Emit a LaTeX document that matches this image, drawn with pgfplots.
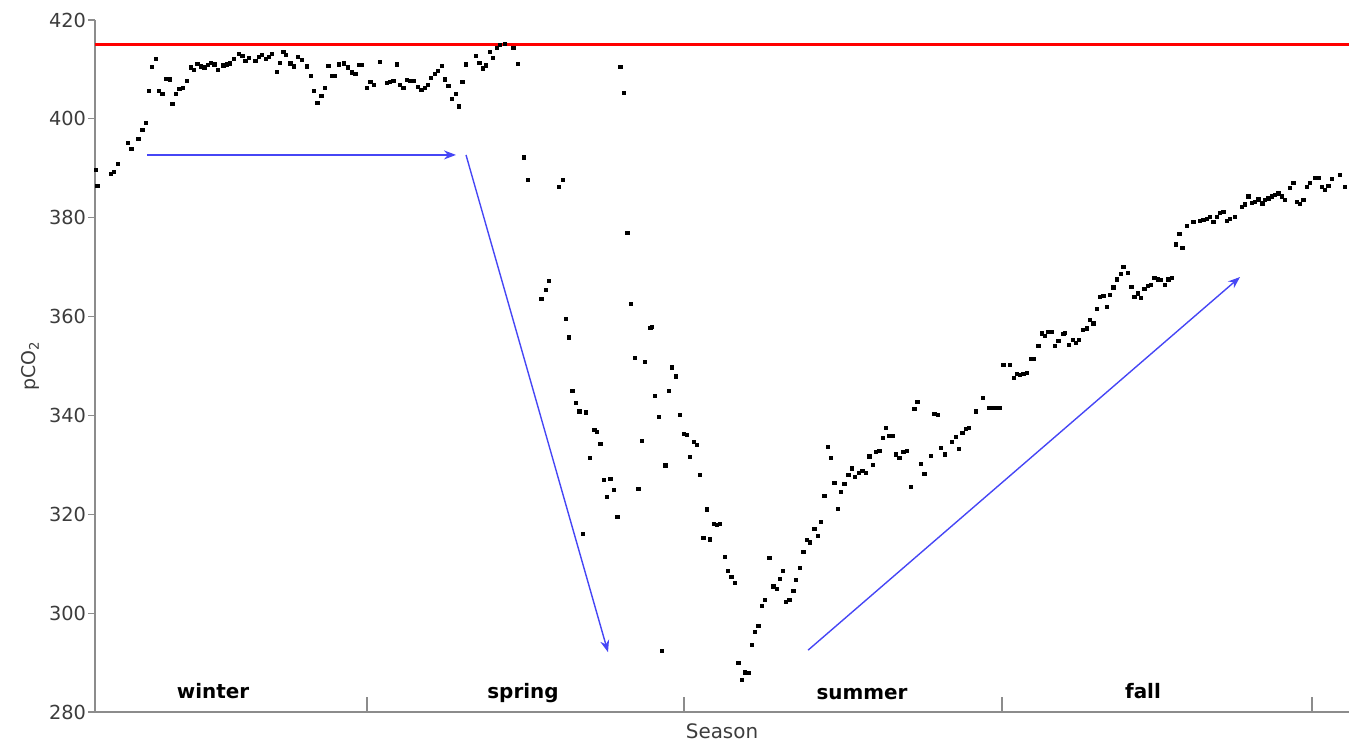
\documentclass[border=0pt]{standalone}
\usepackage{pgfplots}
\pgfplotsset{compat=1.18}
\usepackage{pgfplotstable}
\usetikzlibrary{arrows.meta}
\usepackage{fontspec}
\setmainfont{DejaVu Sans}
\definecolor{axgray}{RGB}{140,140,140}
\definecolor{txtgray}{RGB}{60,60,60}
\definecolor{arrblue}{RGB}{70,70,245}

\pgfplotstableread{
x y
95.5 389.7
97.3 386.5
110.7 388.8
114 389.2
117.7 390.9
127.7 395.2
131.3 394.0
138.3 395.9
142.3 397.7
145.7 399.2
149 405.6
152 410.5
155.7 412.1
159 405.6
162.3 405.0
166.3 408.1
169.7 408.0
172.3 403.1
176 405.0
179.3 406.0
182.7 406.3
187 407.7
190.7 410.4
194 409.9
197.3 411.1
200.7 410.6
204.3 410.4
207.7 410.9
210.7 411.4
214.3 411.0
217.7 409.9
223.3 410.8
226.7 411.0
230 411.2
234 412.1
239 413.1
242.3 412.7
245.3 411.8
248.7 412.4
255.3 411.7
258.7 412.6
262 413.0
265.7 412.2
268.7 412.6
272 413.1
276.7 409.5
280 411.3
283.3 413.5
286 412.9
290.3 411.2
294 410.6
298 412.6
302 412.0
307 410.6
310.7 408.7
314 405.6
317.3 403.3
321.3 404.6
325 406.2
328.3 410.7
331.7 408.7
335 408.7
338.7 411.0
344 411.2
347.7 410.4
352 409.4
355.3 409.1
358.7 410.9
362 410.9
366.7 406.3
370.3 407.4
373.7 406.9
379.7 411.6
386.7 407.3
390 407.5
393.3 407.7
396.7 411.0
400 406.8
403.3 406.2
407 407.8
410.3 407.7
413.7 407.7
418 406.4
421.3 405.9
424.7 406.3
428 406.9
431 408.3
434.7 409.1
438 409.7
441.7 410.7
444.7 408.0
448.3 406.6
451.7 404.0
455.7 405.0
459 402.5
462.3 407.4
466 411.0
475.7 412.8
479.3 411.4
482.7 410.2
486 410.8
489.7 413.5
493 412.3
496.5 414.4
500 414.9
505 415.1
513.3 414.4
517.7 411.1
524 392.2
527.5 387.7
541.3 363.5
545.5 365.4
549 367.2
559 386.2
562.7 387.6
565.7 359.6
569 355.8
572.3 345.0
575.7 342.5
579.3 340.8
586 340.6
582.7 316.0
590 331.4
594.3 337.0
596.7 336.6
600.3 334.3
604 326.9
607 323.5
610.3 327.2
614 324.9
617.3 319.5
620.3 410.5
624 405.2
627.3 377.0
630.7 362.5
634.7 351.6
638.3 325.1
641.7 334.9
645 350.8
650.3 357.7
652 357.9
655 343.9
659 339.7
661.7 292.4
665.3 329.9
669 345.0
672 349.7
675.7 347.9
679.7 340.1
684 336.2
686.7 336.0
689.7 331.6
693.7 334.6
697 334.0
700 327.9
703.3 315.3
707 321.0
710 314.9
714 318.0
717 317.8
720 318.0
724.5 311.4
728 308.5
731.3 307.4
735 306.1
738.3 289.9
741.7 286.5
745 288.0
748.3 287.9
751.7 293.5
755 296.2
758.3 297.5
761.7 301.4
765 302.7
769.3 311.1
773.3 305.4
776.7 304.9
779.5 306.9
782.5 308.5
786 302.3
789.3 302.7
793.3 304.5
796 306.7
799.7 309.1
803.3 312.4
806.7 314.8
810 314.3
814.3 317.0
817.7 315.7
820.7 318.5
824.3 323.8
827.7 333.6
831 331.4
834.3 326.4
837.7 321.1
841 324.5
844.3 326.2
848.3 328.0
851.7 329.3
855 327.5
859 328.4
862.3 328.8
865.7 328.3
869.3 331.7
872.7 330.0
876 332.6
879.3 332.9
882.7 335.4
886 337.4
889.3 335.8
892.7 335.9
896 332.1
899.3 331.4
903.3 332.7
906.7 332.9
910.7 325.6
914.3 341.4
917.3 342.7
921 330.2
924.3 328.1
931 331.8
934.3 340.3
937.7 340.1
941 333.5
944.7 332.1
952 334.6
955.7 335.6
959 333.3
962.3 336.4
965.7 337.2
969 337.4
975.7 340.8
982.5 343.6
988.7 341.6
992 341.6
995.3 341.6
1000 341.6
1003.3 350.2
1010 350.2
1013.8 347.6
1016.7 348.4
1020 348.2
1023.3 348.4
1026.7 348.6
1030.5 351.4
1033.3 351.4
1038.3 354.0
1041.7 356.6
1045 356.1
1048.3 356.9
1051.7 356.9
1055 354.0
1058.3 355.1
1063.3 356.5
1065 356.7
1069 354.2
1072.7 355.3
1076 354.6
1079 355.3
1082.7 357.3
1086.7 357.6
1090 359.4
1093.3 358.6
1096.7 361.5
1100 364.0
1103.3 364.2
1106.7 361.9
1110 364.4
1113.3 365.9
1116.7 367.5
1120.7 368.6
1123.3 370.1
1127.7 368.8
1131.3 366.0
1134.3 364.0
1137.7 364.7
1141 363.7
1144.3 365.6
1147.7 366.2
1151 366.4
1154.3 367.9
1157.7 367.5
1161 367.4
1165 366.4
1168.3 367.5
1171.7 367.9
1176 374.6
1179.3 376.7
1182.3 373.9
1186.7 378.3
1193.3 379.2
1200 379.4
1203.3 379.5
1206.7 379.7
1210 380.1
1213.3 379.2
1216.7 380.2
1220 380.9
1223.3 381.2
1226.7 379.4
1230 379.7
1235 380.2
1241.7 382.2
1245 382.7
1248.3 384.3
1251.7 383.0
1255 383.2
1258.3 383.7
1262.3 382.9
1265 383.6
1268.3 383.9
1271.7 384.3
1275 384.6
1278.3 384.9
1281.7 384.3
1285 383.6
1290 386.0
1293.3 387.0
1296.7 383.2
1300 382.8
1303.3 383.6
1306.7 386.3
1310 387.0
1315 388.0
1318.3 388.0
1321.7 386.3
1325 385.6
1328.3 386.4
1331.7 387.8
1340 388.6
1345 386.2
}\pcodata

\begin{document}
\begin{tikzpicture}
\begin{axis}[
  scale only axis,
  width=627bp, height=346bp,
  xmin=95, xmax=1349,
  ymin=280, ymax=420,
  axis lines*=left,
  axis line style={axgray, line width=0.6bp},
  ytick={280,300,...,420},
  xtick={367,684,1002,1312},
  xticklabels={},
  tick align=outside,
  major tick length=3.5bp,
  ytick style={axgray, line width=0.6bp},
  xtick style={draw=none},
  yticklabel style={font=\fontsize{9.7}{11}\selectfont, text=txtgray, xshift=2.5bp},
  /pgf/number format/assume math mode=true,
  ylabel={pCO\textsubscript{2}},
  ylabel style={at={(axis description cs:-0.0518,0.5)}, anchor=center, font=\fontsize{9.5}{11}\selectfont, text=txtgray},
  xlabel={Season},
  xlabel style={at={(axis description cs:0.5,0)}, anchor=center, yshift=-9.5bp, font=\fontsize{10}{12}\selectfont, text=txtgray},
  clip=false,
]
\coordinate (ll) at (rel axis cs:0,0);
\coordinate (ur) at (rel axis cs:1,1);
\addplot[only marks, mark=square*, mark size=0.8bp, black] table[x=x, y=y] {\pcodata};
\addplot[red, line width=1.6bp] coordinates {(95,415) (1349,415)};
\draw[axgray, line width=0.7bp] (axis cs:367,280) -- (axis cs:367,283);
\draw[axgray, line width=0.7bp] (axis cs:684,280) -- (axis cs:684,283);
\draw[axgray, line width=0.7bp] (axis cs:1002,280) -- (axis cs:1002,283);
\draw[axgray, line width=0.7bp] (axis cs:1312,280) -- (axis cs:1312,283);
\draw[arrblue, line width=0.7bp, -{Stealth[length=6bp,width=4.5bp]}] (axis cs:147,392.7) -- (axis cs:456,392.7);
\draw[arrblue, line width=0.7bp, -{Stealth[length=6bp,width=4.5bp]}] (axis cs:466,392.7) -- (axis cs:608,292.1);
\draw[arrblue, line width=0.7bp, -{Stealth[length=6bp,width=4.5bp]}] (axis cs:808,292.5) -- (axis cs:1240,368.0);
\node[font=\bfseries\fontsize{10}{12}\selectfont, anchor=base] at (axis cs:213,282.83) {winter};
\node[font=\bfseries\fontsize{10}{12}\selectfont, anchor=base] at (axis cs:523,282.83) {spring};
\node[font=\bfseries\fontsize{10}{12}\selectfont, anchor=base] at (axis cs:862,282.43) {summer};
\node[font=\bfseries\fontsize{10}{12}\selectfont, anchor=base] at (axis cs:1143,282.83) {fall};
\end{axis}
\pgfresetboundingbox
\useasboundingbox ([shift={(-47.5bp,-16.5bp)}]ll) rectangle ([shift={(0bp,10bp)}]ur);
\end{tikzpicture}
\end{document}
